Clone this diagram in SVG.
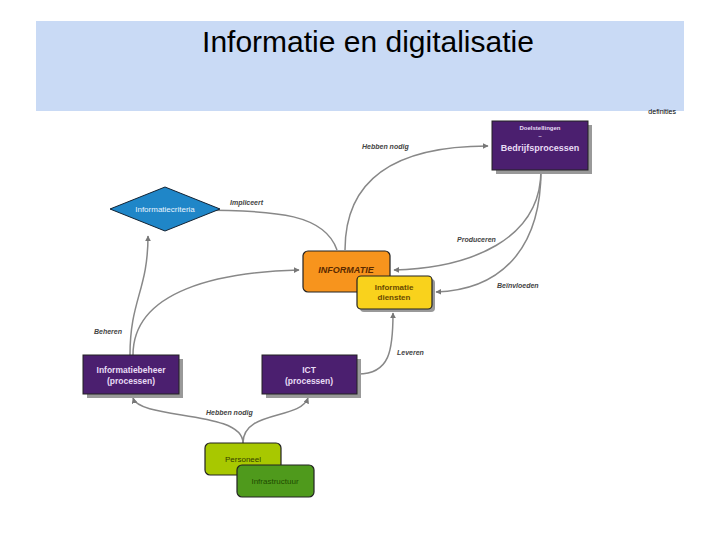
<svg xmlns="http://www.w3.org/2000/svg" width="720" height="540" viewBox="0 0 720 540">
<style>
.lbl{font-family:"Liberation Sans",Arial,sans-serif;font-size:7px;font-style:italic;font-weight:bold;fill:#444}
.w{font-family:"Liberation Sans",Arial,sans-serif;font-weight:bold;fill:#e8dcf5;text-anchor:middle}
.c path{fill:none;stroke:#888;stroke-width:1.5;marker-end:url(#a)}
.sh{fill:#999}
</style>
<defs><marker id="a" viewBox="0 0 10 10" refX="9" refY="5" markerWidth="4" markerHeight="4" orient="auto"><path d="M0,0L10,5L0,10z" fill="#777"/></marker></defs>
<rect width="720" height="540" fill="#fff"/>
<rect x="36" y="21" width="648" height="90" fill="#c9daf5"/>
<text x="368" y="52" font-family="Liberation Sans,Arial,sans-serif" font-size="30" text-anchor="middle" fill="#000">Informatie en digitalisatie</text>
<text x="676" y="114" font-family="Liberation Sans,Arial,sans-serif" font-size="7" text-anchor="end" fill="#000">definities</text>
<g class="c" id="connectors">
<path d="M345,250 C345,190 380,146 488,146"/>
<path d="M337,250 C325,215 280,210 196,210"/>
<path d="M541,170 C541,240 470,268 394,270"/>
<path d="M541,170 C541,250 500,290 436,292"/>
<path d="M130,355 C130,300 148,290 148,236"/>
<path d="M133,355 C133,290 220,272 299,270"/>
<path d="M358,374 C390,374 393,350 393,313"/>
<path d="M243,443 C243,410 140,420 133,398"/>
<path d="M243,443 C243,410 300,420 308,398"/>
</g>
<text class="lbl" x="362" y="149">Hebben nodig</text>
<text class="lbl" x="230" y="205">Impliceert</text>
<text class="lbl" x="457" y="242">Produceren</text>
<text class="lbl" x="497" y="288">Beïnvloeden</text>
<text class="lbl" x="94" y="334">Beheren</text>
<text class="lbl" x="397" y="355">Leveren</text>
<text class="lbl" x="206" y="415">Hebben nodig</text>
<g id="bedrijf"><rect class="sh" x="496" y="125" width="96" height="49"/><rect x="492" y="121" width="96" height="49" fill="#4b1f6f" stroke="#222"/>
<text class="w" x="540" y="130" font-size="6" font-weight="normal">Doelstellingen</text><text class="w" x="540" y="138" font-size="6">~</text><text class="w" x="540" y="151" font-size="9">Bedrijfsprocessen</text></g>
<g id="criteria"><path d="M110,209 L165,187 L220,209 L165,231 Z" fill="#1f86c8" stroke="#123"/><text x="165" y="212" font-family="Liberation Sans,Arial,sans-serif" font-size="8" fill="#e8f4ff" text-anchor="middle">Informatiecriteria</text></g>
<g id="informatie"><rect x="303" y="251" width="87" height="41" rx="5" fill="#f7941d" stroke="#222" stroke-width="1.2"/><text x="346" y="273" font-family="Liberation Sans,Arial,sans-serif" font-size="9" font-weight="bold" font-style="italic" fill="#5a2a00" text-anchor="middle">INFORMATIE</text></g>
<g id="diensten"><rect x="360" y="279" width="75" height="33" rx="4" fill="#999"/><rect x="357" y="276" width="75" height="33" rx="4" fill="#f9d21c" stroke="#222" stroke-width="1.2"/><text x="394" y="290" font-family="Liberation Sans,Arial,sans-serif" font-size="8" font-weight="bold" fill="#6a4a00" text-anchor="middle">Informatie</text><text x="394" y="300" font-family="Liberation Sans,Arial,sans-serif" font-size="8" font-weight="bold" fill="#6a4a00" text-anchor="middle">diensten</text></g>
<g id="beheer"><rect class="sh" x="87" y="359" width="96" height="39"/><rect x="83" y="355" width="96" height="39" fill="#4b1f6f" stroke="#222"/><text class="w" x="131" y="373" font-size="8.5">Informatiebeheer</text><text class="w" x="131" y="384" font-size="8.5">(processen)</text></g>
<g id="ict"><rect class="sh" x="266" y="359" width="95" height="39"/><rect x="262" y="355" width="95" height="39" fill="#4b1f6f" stroke="#222"/><text class="w" x="309" y="373" font-size="8.5">ICT</text><text class="w" x="309" y="384" font-size="8.5">(processen)</text></g>
<g id="personeel"><rect x="205" y="443" width="76" height="32" rx="5" fill="#a8c800" stroke="#222" stroke-width="1.2"/><text x="243" y="462" font-family="Liberation Sans,Arial,sans-serif" font-size="8" fill="#334000" text-anchor="middle">Personeel</text></g>
<g id="infra"><rect x="237" y="465" width="77" height="32" rx="5" fill="#4f9a1c" stroke="#222" stroke-width="1.2"/><text x="275" y="484" font-family="Liberation Sans,Arial,sans-serif" font-size="8" fill="#1e4a00" text-anchor="middle">Infrastructuur</text></g>
</svg>
